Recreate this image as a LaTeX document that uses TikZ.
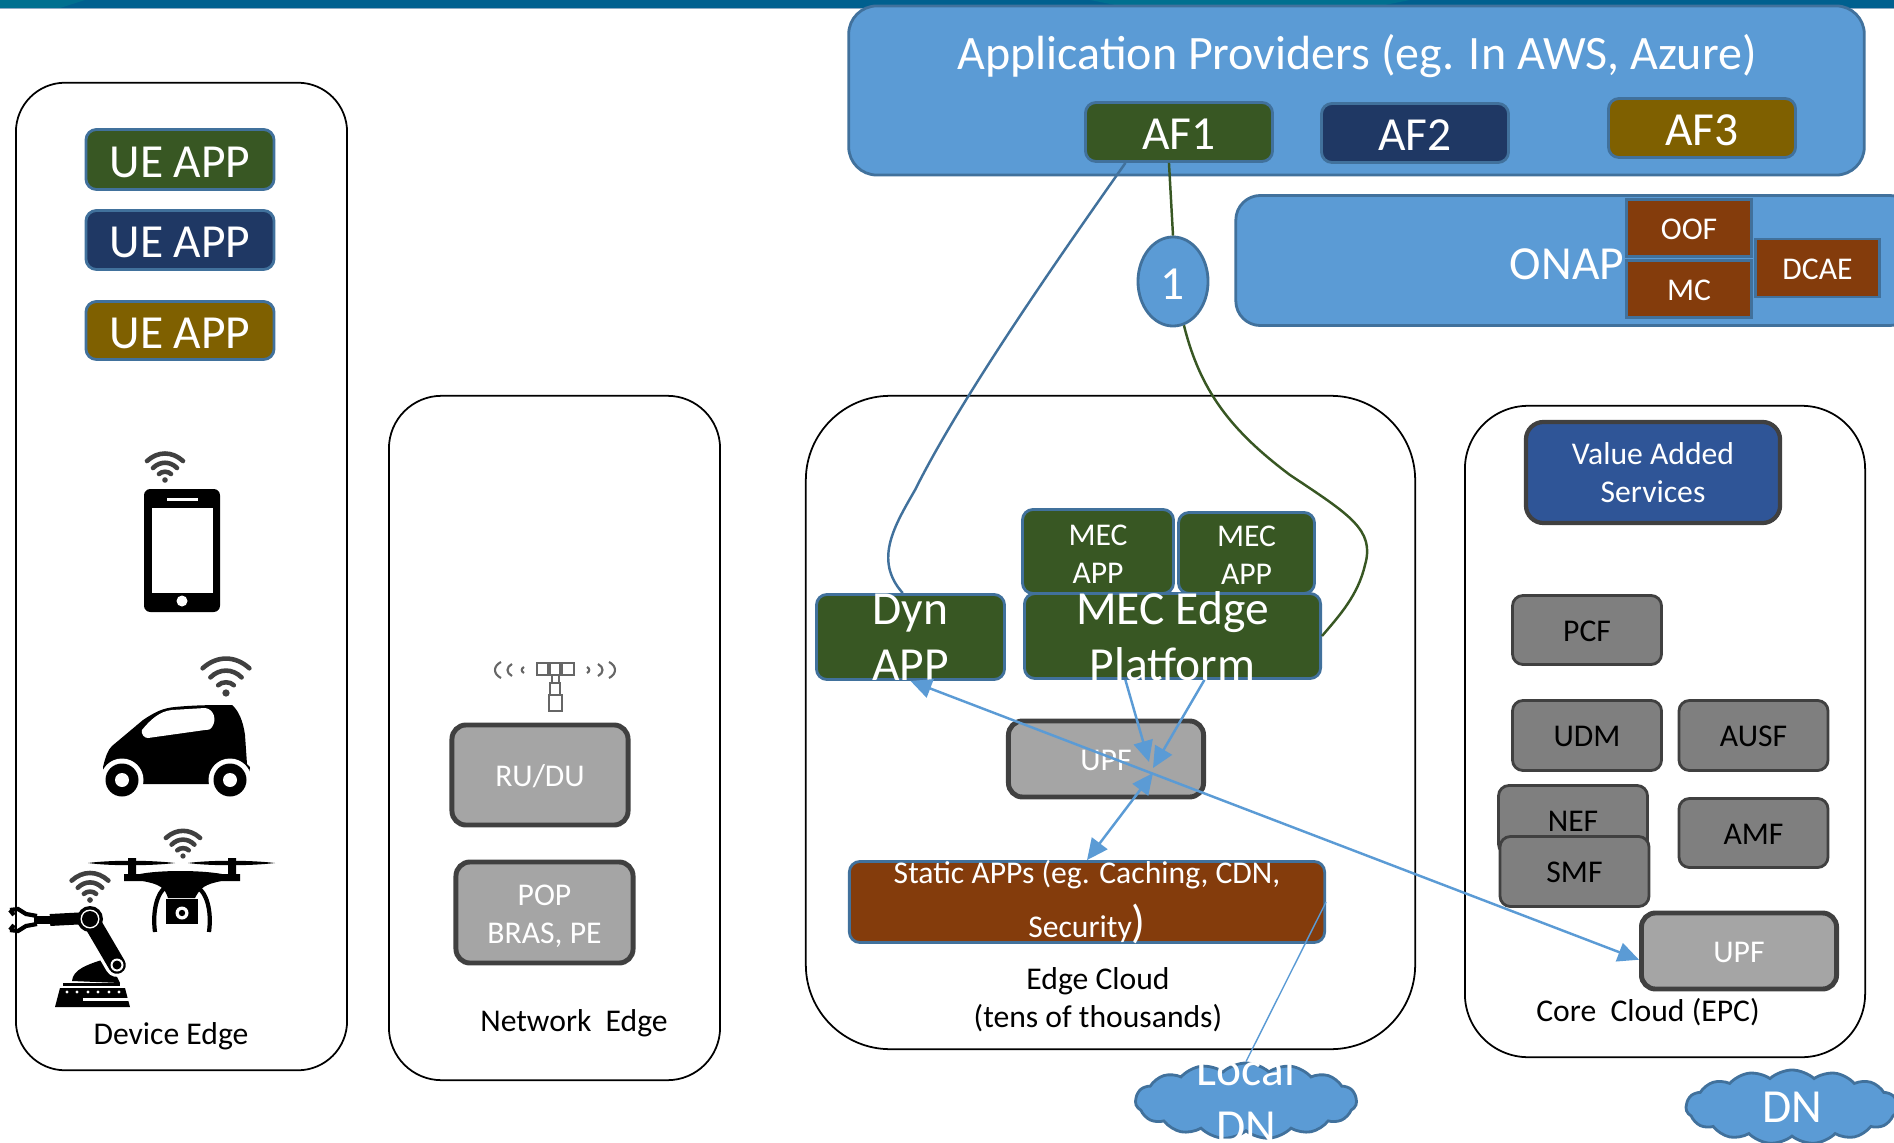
\documentclass[tikz,border=0pt]{standalone}
\usepackage{fontspec}
\setmainfont{Carlito}
\usetikzlibrary{arrows.meta, shapes.geometric, shapes.symbols, positioning}

\definecolor{bluefill}{HTML}{5B9BD5}
\definecolor{blueline}{HTML}{41719C}
\definecolor{greenfill}{HTML}{385723}
\definecolor{navyfill}{HTML}{1F3864}
\definecolor{olivefill}{HTML}{7F6000}
\definecolor{brownfill}{HTML}{843C0C}
\definecolor{royalfill}{HTML}{2F5597}
\definecolor{darkgray}{HTML}{7F7F7F}
\definecolor{midgray}{HTML}{A5A5A5}
\definecolor{grayline}{HTML}{404040}
\definecolor{stripblue}{HTML}{00608F}
\definecolor{stripteal}{HTML}{007090}

\tikzset{
  bigtext/.style={font=\fontsize{13.5}{16}\selectfont, text=white, align=center},
  smalltext/.style={font=\fontsize{9}{10.8}\selectfont, align=center},
  captall/.style={text height=10pt, text depth=0pt},
  capsmall/.style={text height=6.5pt, text depth=0pt},
  region/.style={draw=black, line width=0.5pt, inner sep=0pt},
  box/.style={draw=blueline, fill=#1, line width=0.8pt, rounded corners=3pt, inner sep=0pt},
  graybox/.style={draw=grayline, fill=darkgray, line width=0.8pt, rounded corners=3pt, inner sep=0pt, smalltext, capsmall},
  upfbox/.style={draw=grayline, fill=midgray, line width=1.4pt, rounded corners=4pt, inner sep=0pt, smalltext, text=white},
  square/.style={draw=blueline, fill=brownfill, line width=0.8pt, inner sep=0pt, smalltext, text=white, capsmall},
  puff/.style={cloud, cloud puffs=15, cloud puff arc=85, aspect=3, draw=blueline, fill=bluefill, line width=0.8pt, inner sep=0pt},
  flow/.style={draw=bluefill, line width=0.7pt},
  pics/wifi/.style={code={
    \fill[grayline] (0,0) circle[radius=2.8];
    \draw[grayline, line width=1.3pt, line cap=round] (-6,-6) .. controls (-3,-9) and (3,-9) .. (6,-6);
    \draw[grayline, line width=1.3pt, line cap=round] (-12,-12) .. controls (-5,-19) and (5,-19) .. (12,-12);
    \draw[grayline, line width=1.3pt, line cap=round] (-18,-19) .. controls (-7,-29) and (7,-29) .. (18,-19);
  }}
}

\begin{document}
\begin{tikzpicture}[x=0.01cm, y=-0.01cm, >={Stealth[inset=0pt, length=6pt, width=5.5pt]}]

    \useasboundingbox (0,0) rectangle (1894,1143);

    % strip along the top edge
    \fill[stripblue] (0,0) rectangle (1894,8);
    \fill[stripteal] (0,0) -- (85,0) -- (60,8) -- (0,8) -- cycle;
    \fill[stripteal] (1090,0) -- (1410,0) -- (1370,8) -- (1130,8) -- cycle;
    \fill[blueline!60] (0,8) rectangle (1894,9);

    % regions
    \node[region, rounded corners=14pt, minimum width=3.31cm, minimum height=9.87cm] (device) at (181.5,576.5) {};
    \node[region, rounded corners=15pt, minimum width=3.31cm, minimum height=6.84cm] (network) at (554.5,738) {};
    \node[region, rounded corners=24pt, minimum width=6.09cm, minimum height=6.53cm] (edge) at (1110.5,722.5) {};
    \node[region, rounded corners=18pt, minimum width=4.00cm, minimum height=6.51cm] (core) at (1665,731.5) {};

    \node[smalltext] (devicetxt) at (171,1036) {Device Edge};
    \node[smalltext] (networktxt) at (574,1023) {Network\ \ Edge};
    \node[smalltext] (edgetxt) at (1098,999.5) {Edge Cloud\\(tens of thousands)};
    \node[smalltext] (coretxt) at (1648,1012) {Core\ \ Cloud (EPC)};

    % device edge
    \node[box=greenfill, minimum width=1.88cm, minimum height=0.60cm, bigtext, captall] (ue1) at (180,159.5) {UE APP};
    \node[box=navyfill, minimum width=1.88cm, minimum height=0.59cm, bigtext, captall] (ue2) at (180,240) {UE APP};
    \node[box=olivefill, minimum width=1.88cm, minimum height=0.58cm, bigtext, captall] (ue3) at (180,330.5) {UE APP};

    % phone
    \pic at (165,480) {wifi};
    \fill[black, rounded corners=1.8pt] (144,489) rectangle (220,612);
    \fill[white] (152,508) rectangle (213,593);
    \fill[white] (167,497.5) rectangle (198,501);
    \fill[white] (182,601) circle[radius=5.5];

    % car
    \pic[scale=1.3] at (226,693) {wifi};
    \fill[black] (103,767) .. controls (106,755) and (108,750) .. (112,746) -- (143,720) .. controls (155,712) and (163,708) .. (175,707) .. controls (195,705) and (215,705) .. (232,705) .. controls (238,710) and (243,720) .. (245,735) -- (247,764) -- (250,767) -- (248,784) -- (105,784) -- cycle;
    \fill[white] (142,730) .. controls (150,720) and (160,711) .. (172,710) -- (205,708) .. controls (214,709) and (217,720) .. (212,727) .. controls (210,730) and (208,730) .. (205,730) -- (148,738) .. controls (144,738) and (141,734) .. (142,730) -- cycle;
    \fill[white] (122,780) circle[radius=21.5] (230,780) circle[radius=21.5];
    \fill[white] (95,785) rectangle (255,800);
    \fill[black] (122,780) circle[radius=16.5] (230,780) circle[radius=16.5];
    \fill[white] (122,780) circle[radius=7] (230,780) circle[radius=7];

    % drone
    \pic[scale=0.95] at (183,856) {wifi};
    \fill[black] (88,863) .. controls (110,860) and (150,860) .. (175,863) .. controls (150,866) and (110,866) .. (88,863) -- cycle;
    \fill[black] (188,863) .. controls (210,860) and (250,860) .. (275,863) .. controls (250,866) and (210,866) .. (188,863) -- cycle;
    \fill[black] (128,858) rectangle (136,875) (228,858) rectangle (236,875);
    \fill[black] (124,874) -- (140,874) .. controls (160,870) and (200,870) .. (222,874) -- (240,874) -- (240,881) -- (222,881) .. controls (205,884) and (200,888) .. (195,898) -- (168,898) .. controls (165,888) and (160,884) .. (142,881) -- (124,881) -- cycle;
    \draw[black, line width=1.2pt] (155,932) .. controls (152,910) and (158,892) .. (165,888);
    \draw[black, line width=1.2pt] (209,932) .. controls (212,910) and (206,892) .. (198,888);
    \fill[black] (166,899) rectangle (198,924);
    \fill[white] (182,913) circle[radius=6.5];
    \fill[black] (182,913) circle[radius=3.2];

    % robot arm
    \pic[scale=1.02] at (90,900) {wifi};
    \draw[black, line width=1.2pt] (10,910) -- (18,909) -- (26,914) -- (37,916) (10,930) -- (18,931) -- (26,926) -- (37,924);
    \draw[black, line width=1.2pt] (10,910) -- (14,915) (10,930) -- (14,925);
    \draw[black, line width=2pt] (34,920) -- (50,920);
    \draw[black, line width=3.4pt] (50,920) -- (88,918);
    \fill[black] (72,981) .. controls (73,970) and (85,965) .. (108,958) -- (120,983) -- cycle;
    \draw[white, line width=6.8pt, line cap=round] (90,919) -- (117,965);
    \draw[black, line width=5pt, line cap=round] (90,919) -- (117,965);
    \fill[black] (90,919) circle[radius=13];
    \fill[white] (90,919) circle[radius=9.5];
    \fill[black] (90,919) circle[radius=8];
    \fill[white] (117,965) circle[radius=6.5];
    \fill[black] (117,965) circle[radius=4.5];
    \fill[black] (63,983) rectangle (120,986);
    \fill[black] (60,988) -- (125,988) -- (130,1007) -- (55,1007) -- cycle;
    \foreach \dotx in {67,77,88,98,109,119}
        \fill[white] (\dotx,992) circle[radius=1.7];
    \fill[white] (83,998) rectangle (131,1001);

    % network edge
    \draw[grayline!80, line width=0.4pt] (537,663) rectangle (548,675) (550,663) rectangle (560,675) (562,663) rectangle (574,675) (548,670) -- (550,670) (560,670) -- (562,670);
    \draw[grayline!80, line width=0.4pt] (552,675) rectangle (559,683) (550,683) rectangle (560,695) (549,695) rectangle (562,711);
    \foreach \wavex/\waveh in {501/8,512/6,524/3}
        \draw[grayline!80, line width=0.6pt] (\wavex,670-\waveh) .. controls (\wavex-\waveh,670-0.5*\waveh) and (\wavex-\waveh,670+0.5*\waveh) .. (\wavex,670+\waveh);
    \foreach \wavex/\waveh in {609/8,598/6,587/3}
        \draw[grayline!80, line width=0.6pt] (\wavex,670-\waveh) .. controls (\wavex+\waveh,670-0.5*\waveh) and (\wavex+\waveh,670+0.5*\waveh) .. (\wavex,670+\waveh);
    \node[upfbox, capsmall, minimum width=1.76cm, minimum height=1.00cm] (rudu) at (540,775) {RU/DU};
    \node[upfbox, minimum width=1.77cm, minimum height=1.01cm, label={[smalltext, text=white, yshift=-1pt]center:POP\\BRAS, PE}] (pop) at (544.5,912.5) {};

    % application providers and ONAP
    \node[box=bluefill, rounded corners=8pt, minimum width=10.15cm, minimum height=1.69cm] (apps) at (1356.5,90.5) {};
    \node[bigtext, font=\fontsize{13.65}{16}\selectfont] (appstxt) at (1357,56) {Application Providers (eg. In AWS, Azure)};
    \node[box=greenfill, minimum width=1.87cm, minimum height=0.59cm, bigtext, captall] (af1) at (1179,132) {AF1};
    \node[box=navyfill, minimum width=1.87cm, minimum height=0.59cm, bigtext, captall] (af2) at (1415,133) {AF2};
    \node[box=olivefill, minimum width=1.87cm, minimum height=0.59cm, bigtext, captall] (af3) at (1702,128) {AF3};

    \node[box=bluefill, rounded corners=7pt, minimum width=6.78cm, minimum height=1.30cm] (onap) at (1575,260.5) {};
    \node[bigtext, captall] (onaptxt) at (1567,262) {ONAP};
    \node[square, minimum width=1.25cm, minimum height=0.57cm] (oof) at (1689,228) {OOF};
    \node[square, minimum width=1.25cm, minimum height=0.57cm] (mc) at (1689,289) {MC};
    \node[square, minimum width=1.24cm, minimum height=0.58cm] (dcae) at (1817.5,268) {DCAE};
    \node[draw=blueline, fill=bluefill, line width=0.8pt, ellipse, inner sep=0pt, minimum width=0.70cm, minimum height=0.89cm, bigtext, captall] (one) at (1173,281.5) {1};

    % edge cloud
    \node[box=greenfill, minimum width=1.51cm, minimum height=0.84cm, label={[smalltext, text=white, yshift=-0.7pt]center:MEC\\APP}] (mec1) at (1098,551.5) {};
    \node[box=greenfill, minimum width=1.36cm, minimum height=0.81cm, label={[smalltext, text=white, yshift=-0.5pt]center:MEC\\APP}] (mec2) at (1246.5,553) {};
    \node[box=greenfill, minimum width=1.88cm, minimum height=0.85cm, label={[bigtext]center:Dyn\\APP}] (dyn) at (910.5,637) {};
    \node[box=greenfill, minimum width=2.96cm, minimum height=0.85cm, label={[bigtext]center:MEC Edge\\Platform}] (mep) at (1172.5,636) {};
    \node[upfbox, capsmall, minimum width=1.95cm, minimum height=0.76cm] (upfedge) at (1106,759) {UPF};
    \node[box=brownfill, minimum width=4.75cm, minimum height=0.81cm, label={[smalltext, text=white, font=\fontsize{9}{15.2}\selectfont]center:Static APPs (eg. Caching, CDN,\\Security{\fontsize{13}{13}\selectfont)}}] (static) at (1087,902) {};

    \node[puff, minimum width=2.21cm, minimum height=0.76cm, label={[bigtext, yshift=1pt]center:Local\\DN}] (localdn) at (1246,1101) {};
    \node[puff, minimum width=2.12cm, minimum height=0.74cm, label={[bigtext]center:DN}] (dn) at (1792,1107) {};

    % core cloud
    \node[draw=grayline, fill=royalfill, line width=1.2pt, rounded corners=5pt, inner sep=0pt, minimum width=2.54cm, minimum height=1.01cm, smalltext, text=white] (vas) at (1653,472.5) {Value Added\\Services};
    \node[graybox, minimum width=1.49cm, minimum height=0.69cm] (pcf) at (1587,630) {PCF};
    \node[graybox, minimum width=1.49cm, minimum height=0.70cm] (udm) at (1587,735.5) {UDM};
    \node[graybox, minimum width=1.49cm, minimum height=0.70cm] (ausf) at (1753.5,735.5) {AUSF};
    \node[graybox, minimum width=1.49cm, minimum height=0.69cm] (nef) at (1573,820) {NEF};
    \node[graybox, minimum width=1.49cm, minimum height=0.69cm] (amf) at (1753.5,833) {AMF};
    \node[graybox, minimum width=1.49cm, minimum height=0.70cm] (smf) at (1574.5,871.5) {SMF};
    \node[upfbox, capsmall, minimum width=1.95cm, minimum height=0.76cm] (upfcore) at (1739,951) {UPF};

    % Connections: application function to edge
    \draw[draw=blueline, line width=0.7pt] (af1.-150) .. controls (1050,270) and (960,400) .. (915,490) .. controls (895,525) and (873,560) .. (dyn.100);
    \draw[draw=greenfill, line width=0.7pt] (af1.-108) -- (one.north);
    \draw[draw=greenfill, line width=0.7pt] (one.-76) .. controls (1200,390) and (1230,430) .. (1290,475) .. controls (1350,515) and (1375,530) .. (1365,565) .. controls (1358,595) and (1340,615) .. (mep.east);

    % Connections: user plane
    \coordinate (hubtop) at (1149,762);
    \coordinate (hubmid) at (1153,768);
    \coordinate (hublow) at (1153,773);
    \draw[flow, <->] (dyn.south) -- (upfcore.-175);
    \draw[flow, ->] (mep.-137) -- (hubtop);
    \draw[flow, ->] (mep.-54) -- (hubmid);
    \draw[flow, <->] (static.north) -- (hublow);
    \draw[draw=bluefill, line width=0.4pt] (static.east) -- (localdn.north);

\end{tikzpicture}
\end{document}
